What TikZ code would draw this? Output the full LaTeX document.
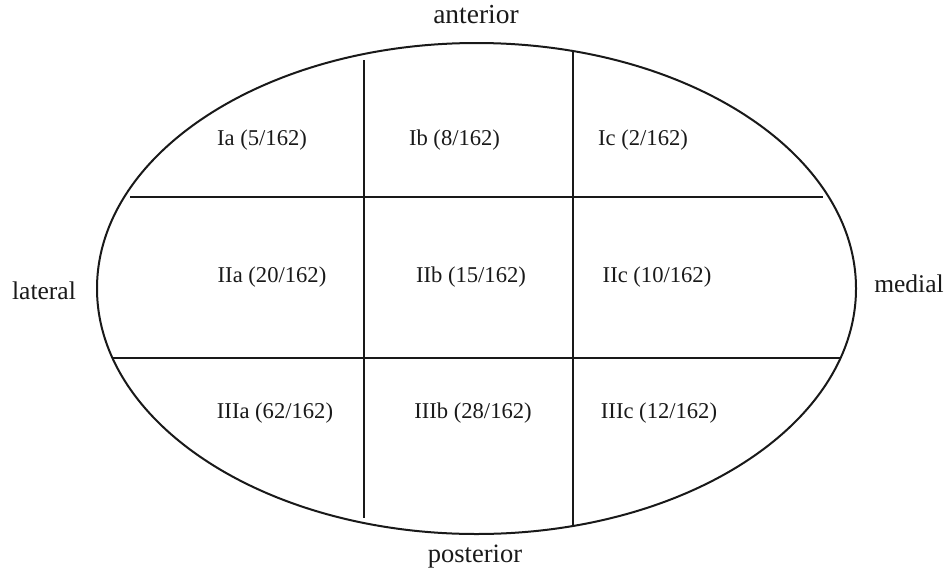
\documentclass[tikz,border=0pt]{standalone}
\usepackage{fontspec}
\setmainfont{Liberation Serif}
\begin{document}
\begin{tikzpicture}[x=1pt,y=-1pt,
  outline/.style={draw=black!90,line width=2pt},
  divider/.style={draw=black!90,line width=2.5pt},
  cell/.style={inner sep=0pt,anchor=base,font=\fontsize{22.6}{26}\selectfont,text=black!90},
  side/.style={inner sep=0pt,anchor=base,font=\fontsize{25.5}{29}\selectfont,text=black!90}]
\useasboundingbox (0,0) rectangle (945,571);
% outer outline
\draw[outline] (476.5,288.5) ellipse [x radius=379.5, y radius=245.5];
% grid dividers
\coordinate (v1t) at (364,60);  \coordinate (v1b) at (364,518);
\coordinate (v2t) at (573,52);  \coordinate (v2b) at (573,526);
\coordinate (h1l) at (130,197); \coordinate (h1r) at (823,197);
\coordinate (h2l) at (113,358); \coordinate (h2r) at (840,358);
\draw[divider] (v1t) -- (v1b);
\draw[divider] (v2t) -- (v2b);
\draw[divider] (h1l) -- (h1r);
\draw[divider] (h2l) -- (h2r);
% orientation labels
\node[side,font=\fontsize{27.5}{31}\selectfont] (ant) at (476,23) {anterior};
\node[side,font=\fontsize{26.5}{30}\selectfont] (post) at (475,562) {posterior};
\node[side] (lat) at (44,299) {lateral};
\node[side] (med) at (909,292) {medial};
% cell labels
\node[cell] (Ia) at (262,145) {Ia (5/162)};
\node[cell] (Ib) at (454.5,145) {Ib (8/162)};
\node[cell] (Ic) at (643,145) {Ic (2/162)};
\node[cell] (IIa) at (272,282) {IIa (20/162)};
\node[cell] (IIb) at (471,282) {IIb (15/162)};
\node[cell] (IIc) at (657,282) {IIc (10/162)};
\node[cell] (IIIa) at (275,418) {IIIa (62/162)};
\node[cell] (IIIb) at (473,418) {IIIb (28/162)};
\node[cell] (IIIc) at (659,418) {IIIc (12/162)};
\end{tikzpicture}
\end{document}
